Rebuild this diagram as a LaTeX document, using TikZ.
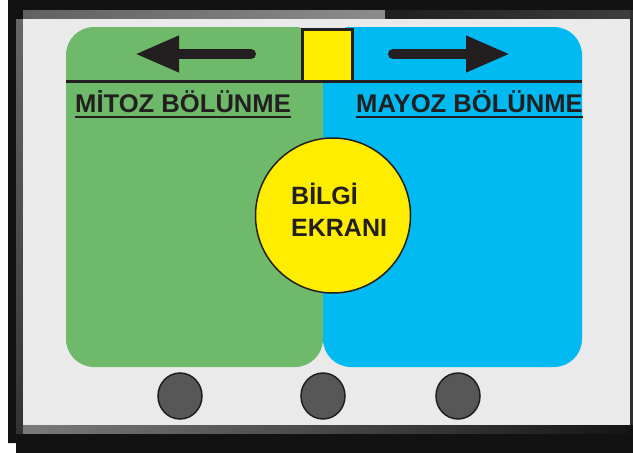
\documentclass[tikz,border=0pt]{standalone}
\usepackage{fontspec}
\setmainfont{Liberation Sans}
\usepackage{tikz}
\usetikzlibrary{shapes.geometric, arrows.meta, positioning, calc}

\definecolor{mitozgreen}{HTML}{6EBA6A}
\definecolor{mayozblue}{HTML}{00BAF1}
\definecolor{ekranyellow}{HTML}{FFED00}
\definecolor{inkdark}{HTML}{231F20}
\definecolor{panelgray}{HTML}{EAEAEA}
\definecolor{wheelgray}{HTML}{575757}

\begin{document}
\begin{tikzpicture}[x=1pt, y=-1pt,
    half/.style={fill=#1, rounded corners=28pt},
    title/.style={anchor=base west, inner sep=0pt, text=inkdark, font=\fontsize{25.6}{30}\selectfont\bfseries},
    underbar/.style={draw=inkdark, line width=2pt},
    bigarrow/.style={draw=inkdark, line width=10pt, line cap=round, -{Triangle[length=44pt, width=34pt]}},
    wheel/.style={ellipse, draw=inkdark, line width=1.5pt, fill=wheelgray, minimum width=44pt, minimum height=46pt, inner sep=0pt}
]
\useasboundingbox (0,0) rectangle (633,453);

\fill[black!93] (8,0) -- (633,0) -- (633,453) -- (16,453) -- (16,443) -- (8,443) -- cycle;
\shade[left color=black!62, right color=black!45] (23,10) rectangle (385,19);
\shade[left color=black!88, right color=black!76] (385,10) rectangle (630,19);
\shade[top color=black!60, bottom color=black!80] (16,19) rectangle (23,433);
\shade[left color=black!52, right color=black!92] (23,425) rectangle (630,433);
\fill[black!82] (630,10) rectangle (633,425);
\fill[panelgray] (23,19) rectangle (630,425);

\fill[half=mitozgreen] (66,27) rectangle (323,367);
\fill[half=mayozblue] (323,27) rectangle (582,367);

\draw[inkdark, line width=3pt] (66,81.5) -- (582,81.5);
\node[draw=inkdark, line width=3pt, fill=ekranyellow, minimum width=50pt, minimum height=52pt, inner sep=0pt] (switch) at (327,55.5) {};

\draw[bigarrow] (251,54) -- (135,54);
\draw[bigarrow] (393,54) -- (510,54);

\node[title] (mitoz) at (75,112) {MİTOZ BÖLÜNME};
\draw[underbar] ([yshift=-4.5pt]mitoz.base west) -- ([yshift=-4.5pt]mitoz.base east);
\node[title] (mayoz) at (356,112) {MAYOZ BÖLÜNME};
\draw[underbar] ([yshift=-4.5pt]mayoz.base west) -- ([yshift=-4.5pt]mayoz.base east);

\node[circle, draw=inkdark, line width=1.5pt, fill=ekranyellow, minimum size=155pt, inner sep=0pt] (ekran) at (333,215.5) {};
\node[anchor=base west, inner sep=0pt, align=left, text=inkdark, font=\fontsize{25}{32}\selectfont\bfseries] (bilgi) at (291,236) {BİLGİ\\EKRANI};

\node[wheel] (wheel1) at (180,396) {};
\node[wheel] (wheel2) at (323,396) {};
\node[wheel] (wheel3) at (458,396) {};

\end{tikzpicture}
\end{document}
